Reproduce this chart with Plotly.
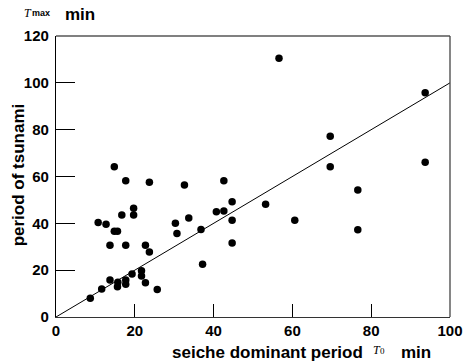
import plotly.graph_objects as go

# seiche dominant period T0 (min)
seiche_period = [14.8, 17.7, 23.7, 32.6, 42.6, 19.7, 16.7, 19.7, 10.7, 12.7,
                 14.8, 15.6, 13.7, 17.7, 22.7, 23.7, 30.3, 30.7, 33.7, 36.8,
                 37.2, 40.7, 42.6, 44.7, 44.7, 44.7, 8.7, 11.6, 13.7, 15.7,
                 15.6, 17.7, 17.7, 19.3, 21.7, 21.7, 22.7, 25.7,
                 56.6, 93.7, 69.6, 69.6, 93.7, 53.2, 76.6, 60.6, 76.6]
# period of tsunami Tmax (min)
tsunami_period = [64.2, 58.2, 57.5, 56.4, 58.2, 46.4, 43.6, 43.6, 40.4, 39.6,
                  36.6, 36.6, 30.6, 30.6, 30.6, 27.8, 40.0, 35.7, 42.3, 37.4,
                  22.5, 45.0, 45.3, 49.2, 41.3, 31.6, 8.0, 12.0, 15.8, 14.8,
                  12.9, 15.8, 14.0, 18.4, 19.8, 17.5, 14.6, 11.7,
                  110.5, 95.8, 77.2, 64.2, 66.1, 48.2, 54.2, 41.3, 37.3]
# reference line
line_x = [0, 100]
line_y = [0, 100]

x_ticks = [0, 20, 40, 60, 80, 100]
y_ticks = [0, 20, 40, 60, 80, 100, 120]

FONT = "Liberation Sans, Arial, Helvetica, sans-serif"
SERIF = "Liberation Serif, Times New Roman, serif"

fig = go.Figure()
fig.add_trace(go.Scatter(x=line_x, y=line_y, mode="lines",
                         line=dict(color="black", width=1), showlegend=False,
                         hoverinfo="skip"))
fig.add_trace(go.Scatter(x=seiche_period, y=tsunami_period, mode="markers",
                         marker=dict(color="black", size=7.5, line=dict(width=0)),
                         showlegend=False))

fig.update_layout(
    width=470, height=362,
    margin=dict(l=56, r=7, t=36, b=45),
    paper_bgcolor="white", plot_bgcolor="white",
    font=dict(family=FONT, color="black"),
    xaxis=dict(range=[0, 100], tickvals=x_ticks, ticks="inside", ticklen=13,
               tickwidth=1, tickcolor="black", showline=True, linecolor="#333",
               linewidth=1.3, showgrid=False, zeroline=False,
               tickfont=dict(size=15, family=FONT, weight="bold"),
               ticklabelstandoff=0, ticklabeloverflow="allow"),
    yaxis=dict(range=[0, 120], tickvals=y_ticks, ticks="inside", ticklen=19,
               tickwidth=1, tickcolor="black", showline=True, linecolor="black",
               linewidth=1.3, showgrid=False, zeroline=False,
               tickfont=dict(size=15, family=FONT, weight="bold"),
               ticklabelstandoff=3, ticklabeloverflow="allow"),
    yaxis2=dict(range=[0, 120], tickvals=y_ticks, overlaying="y", side="left",
                ticks="outside", ticklen=4, tickcolor="black", showticklabels=False,
                showgrid=False, zeroline=False, showline=False),
)

# top and right frame
fig.add_shape(type="line", xref="paper", yref="paper", x0=0, x1=1, y0=1, y1=1,
              line=dict(color="#808080", width=2))
fig.add_shape(type="line", xref="paper", yref="paper", x0=1, x1=1, y0=0, y1=1,
              line=dict(color="#444", width=1.3))


def px_x(p):
    return (p - 56) / 407


def px_y(p):
    return (317 - p) / 281


ann = []
ann.append(dict(text="<b>period of tsunami</b>", xref="paper", yref="paper",
                x=px_x(17), y=0.505, textangle=-90, showarrow=False,
                xanchor="center", yanchor="middle",
                font=dict(size=17, family=FONT, color="black")))
ann.append(dict(text="<b>seiche dominant period</b>", xref="paper", yref="paper",
                x=px_x(174), y=px_y(352), showarrow=False,
                xanchor="left", yanchor="middle",
                font=dict(size=17, family=FONT, color="black")))
ann.append(dict(text="<i>T</i>", xref="paper", yref="paper",
                x=px_x(381), y=px_y(350), showarrow=False,
                xanchor="left", yanchor="middle",
                font=dict(size=12, family=SERIF, color="black")))
ann.append(dict(text="0", xref="paper", yref="paper",
                x=px_x(389), y=px_y(351), showarrow=False,
                xanchor="left", yanchor="middle",
                font=dict(size=9, family=SERIF, color="black")))
ann.append(dict(text="<b>min</b>", xref="paper", yref="paper",
                x=px_x(410), y=px_y(352), showarrow=False,
                xanchor="left", yanchor="middle",
                font=dict(size=17, family=FONT, color="black")))
ann.append(dict(text="<i>T</i>", xref="paper", yref="paper",
                x=px_x(21), y=px_y(12.5), showarrow=False,
                xanchor="left", yanchor="middle",
                font=dict(size=12, family=SERIF, color="black")))
ann.append(dict(text="<b>max</b>", xref="paper", yref="paper",
                x=px_x(29), y=px_y(13.5), showarrow=False,
                xanchor="left", yanchor="middle",
                font=dict(size=9, family=FONT, color="black")))
ann.append(dict(text="<b>min</b>", xref="paper", yref="paper",
                x=px_x(63), y=px_y(14), showarrow=False,
                xanchor="left", yanchor="middle",
                font=dict(size=17, family=FONT, color="black")))
fig.update_layout(annotations=ann)

fig.write_html("out.html")
